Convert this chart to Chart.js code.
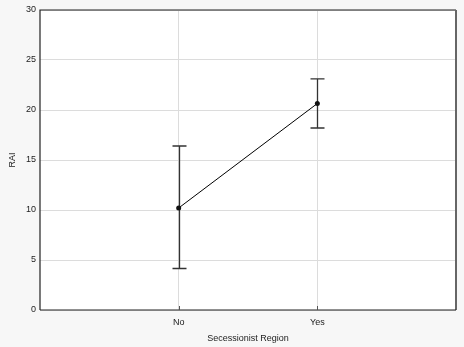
<!DOCTYPE html>
<html>
<head>
<meta charset="utf-8">
<script src="https://cdn.jsdelivr.net/npm/chart.js@4/dist/chart.umd.min.js"></script>
<style>
  html, body { margin: 0; padding: 0; background: #f7f7f7; }
  #wrap { width: 464px; height: 347px; }
</style>
</head>
<body>
<div id="wrap"><canvas id="c" width="464" height="347"></canvas></div>
<script>
// Mean RAI by secessionist status with confidence intervals
const categories = ['No', 'Yes'];
const means = [10.2, 20.65];
const lower = [4.15, 18.2];
const upper = [16.4, 23.12];
const yTicks = [0, 5, 10, 15, 20, 25, 30];

const positions = categories.map((_, i) => i + 1);

const plotBg = {
  id: 'plotBg',
  beforeDraw(chart) {
    const { ctx, chartArea: a } = chart;
    ctx.save();
    ctx.fillStyle = '#ffffff';
    ctx.fillRect(a.left, a.top, a.right - a.left, a.bottom - a.top);
    ctx.restore();
  }
};

const frame = {
  id: 'frame',
  afterDatasetsDraw(chart) {
    const { ctx, chartArea: a } = chart;
    ctx.save();
    ctx.strokeStyle = '#222';
    ctx.lineWidth = 1.2;
    ctx.beginPath();
    ctx.moveTo(a.left, a.bottom);
    ctx.lineTo(a.left, a.top);
    ctx.lineTo(a.right, a.top);
    ctx.stroke();
    ctx.strokeStyle = '#666';
    ctx.lineWidth = 2;
    ctx.beginPath();
    ctx.moveTo(a.right, a.top);
    ctx.lineTo(a.right, a.bottom);
    ctx.stroke();
    ctx.strokeStyle = '#222';
    ctx.lineWidth = 1.2;
    ctx.beginPath();
    ctx.moveTo(a.left, a.bottom);
    ctx.lineTo(a.right, a.bottom);
    ctx.stroke();
    // inner tick marks on the category axis
    const xs = chart.scales.x;
    ctx.strokeStyle = '#555';
    ctx.lineWidth = 1;
    positions.forEach(p => {
      const x = Math.round(xs.getPixelForValue(p)) + 0.5;
      ctx.beginPath();
      ctx.moveTo(x, a.bottom);
      ctx.lineTo(x, a.bottom - 4);
      ctx.stroke();
    });
    ctx.restore();
  }
};

const errorBars = {
  id: 'errorBars',
  beforeDatasetsDraw(chart) {
    const { ctx } = chart;
    const xs = chart.scales.x, ys = chart.scales.y;
    ctx.save();
    ctx.strokeStyle = '#333';
    ctx.lineWidth = 1.3;
    positions.forEach((p, i) => {
      const x = Math.round(xs.getPixelForValue(p)) + 0.5;
      const yl = ys.getPixelForValue(lower[i]);
      const yu = ys.getPixelForValue(upper[i]);
      ctx.beginPath();
      ctx.moveTo(x, yl); ctx.lineTo(x, yu);
      ctx.moveTo(x - 7, yl); ctx.lineTo(x + 7, yl);
      ctx.moveTo(x - 7, yu); ctx.lineTo(x + 7, yu);
      ctx.stroke();
    });
    ctx.restore();
  }
};

new Chart(document.getElementById('c'), {
  type: 'line',
  data: {
    datasets: [{
      data: positions.map((p, i) => ({ x: p, y: means[i] })),
      borderColor: '#000',
      borderWidth: 1,
      backgroundColor: '#000',
      pointRadius: 2.5,
      pointBorderWidth: 0,
      pointBackgroundColor: '#111',
      tension: 0
    }]
  },
  options: {
    responsive: false,
    animation: false,
    devicePixelRatio: 1,
    layout: { padding: { top: 10, right: 8, left: 0, bottom: 0 } },
    plugins: { legend: { display: false }, tooltip: { enabled: false } },
    scales: {
      x: {
        type: 'linear',
        min: 0,
        max: categories.length + 1,
        afterBuildTicks: s => { s.ticks = positions.map(v => ({ value: v })); },
        afterFit: s => { s.height = 37; },
        ticks: {
          callback: v => categories[v - 1] ?? '',
          font: { family: 'Liberation Sans, Arial', size: 9 },
          color: '#222',
          padding: 7,
          maxRotation: 0
        },
        grid: { color: '#dcdcdc', lineWidth: 1, drawTicks: false },
        border: { display: false },
        title: {
          display: true,
          text: 'Secessionist Region',
          font: { family: 'Liberation Sans, Arial', size: 9 },
          color: '#222',
          padding: { top: 5, bottom: 3 }
        }
      },
      y: {
        min: 0,
        max: 30,
        afterBuildTicks: s => { s.ticks = yTicks.map(v => ({ value: v })); },
        afterFit: s => { s.width = 40; },
        ticks: {
          font: { family: 'Liberation Sans, Arial', size: 9 },
          color: '#222',
          padding: 4
        },
        grid: { color: '#dcdcdc', lineWidth: 1, drawTicks: false },
        border: { display: false },
        title: {
          display: true,
          text: 'RAI',
          font: { family: 'Liberation Sans, Arial', size: 9 },
          color: '#222',
          padding: { top: 7, bottom: 0 }
        }
      }
    }
  },
  plugins: [plotBg, errorBars, frame]
});
</script>
</body>
</html>
